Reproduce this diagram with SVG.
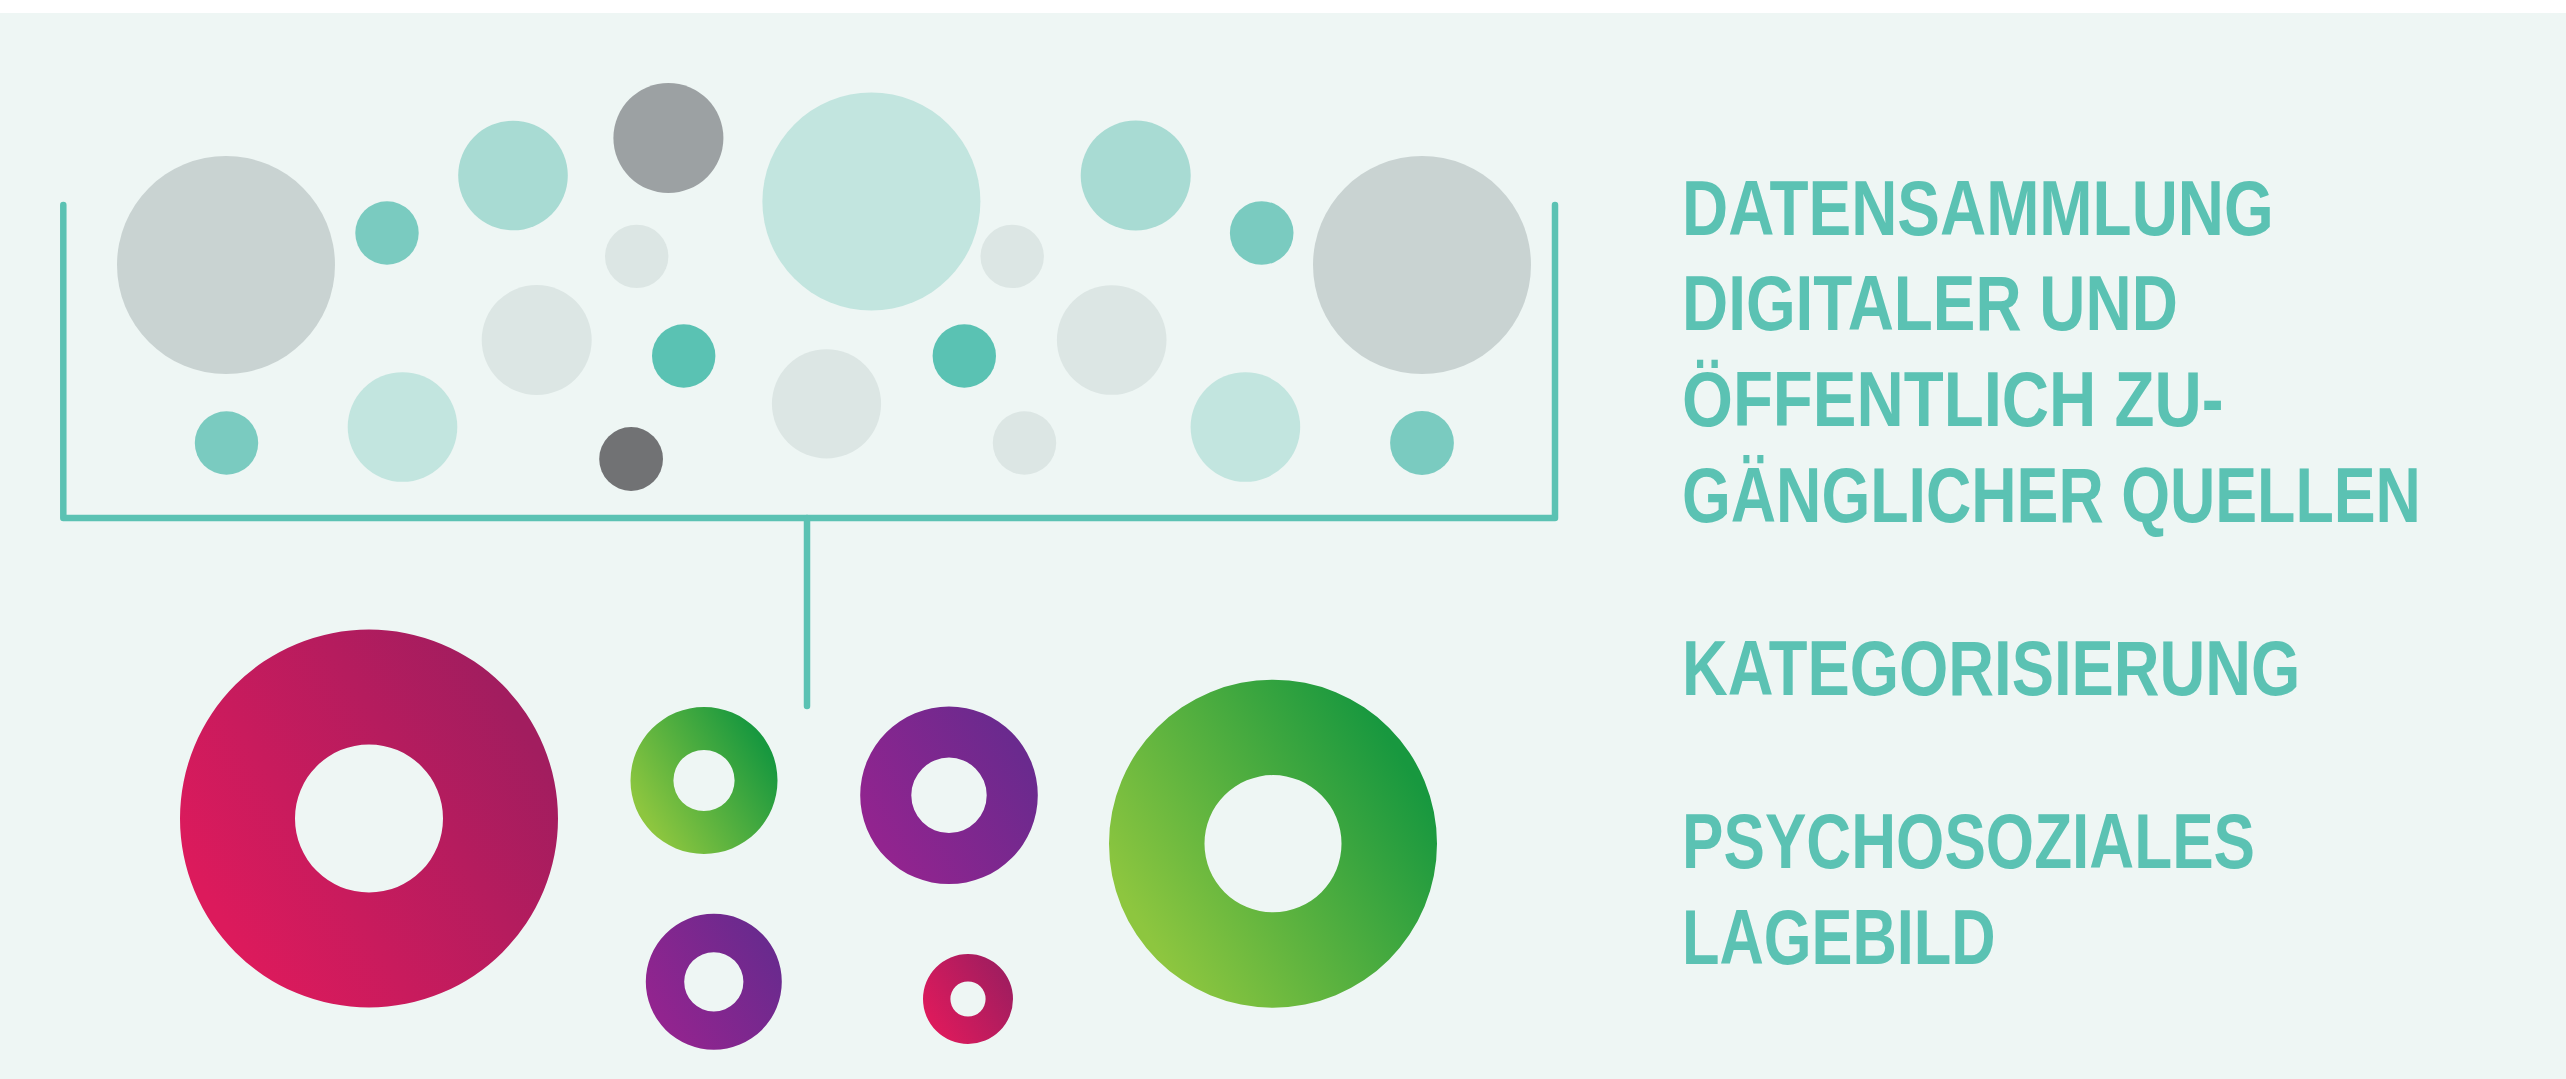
<svg xmlns="http://www.w3.org/2000/svg" width="2566" height="1079" viewBox="0 0 2566 1079">
  <defs>
    <linearGradient id="gPink" x1="0.1" y1="0.75" x2="0.9" y2="0.25">
      <stop offset="0" stop-color="#DC1A5C"/>
      <stop offset="1" stop-color="#A21D5F"/>
    </linearGradient>
    <linearGradient id="gGreen" x1="0.1" y1="0.75" x2="0.9" y2="0.25">
      <stop offset="0" stop-color="#8DC63F"/>
      <stop offset="1" stop-color="#18983F"/>
    </linearGradient>
    <linearGradient id="gPurple" x1="0.1" y1="0.75" x2="0.9" y2="0.25">
      <stop offset="0" stop-color="#92248F"/>
      <stop offset="1" stop-color="#6A2A8E"/>
    </linearGradient>
  </defs>
  <style>
    .gray { fill: #C9D3D2; }
    .pale { fill: #DCE6E4; }
    .mint { fill: #C2E5DF; }
    .aqua { fill: #A8DBD3; }
    .teal { fill: #7ACBC0; }
    .turq { fill: #5AC2B3; }
    .slate { fill: #9CA1A3; }
    .dark { fill: #717274; }
    .ring { fill-rule: evenodd; }
    .conn { fill: none; stroke: #5BC2B3; stroke-width: 6.5; stroke-linecap: round; stroke-linejoin: round; }
    .label { font-family: "Liberation Sans", Arial, sans-serif; font-weight: 700; font-size: 77px; fill: #5BC2B3; }
  </style>

  <!-- background panel -->
  <rect x="0" y="13" width="2566" height="1066" fill="#EEF6F4"/>

  <!-- collected data points -->
  <g id="sources">
    <circle class="gray" cx="226" cy="265" r="109"/>
    <circle class="teal" cx="387" cy="233" r="31.7"/>
    <circle class="aqua" cx="513" cy="175.5" r="54.8"/>
    <circle class="slate" cx="668.4" cy="138" r="55"/>
    <circle class="pale" cx="636.7" cy="256.4" r="31.7"/>
    <circle class="mint" cx="871.4" cy="201.5" r="109"/>
    <circle class="pale" cx="1012.2" cy="256.4" r="31.7"/>
    <circle class="aqua" cx="1135.7" cy="175.5" r="55"/>
    <circle class="teal" cx="1261.7" cy="233" r="31.8"/>
    <circle class="gray" cx="1422" cy="265" r="109"/>
    <circle class="pale" cx="536.7" cy="340" r="55"/>
    <circle class="turq" cx="683.7" cy="356" r="31.7"/>
    <circle class="pale" cx="826.5" cy="403.8" r="54.6"/>
    <circle class="turq" cx="964.3" cy="356" r="31.7"/>
    <circle class="pale" cx="1111.7" cy="340" r="54.8"/>
    <circle class="teal" cx="226.5" cy="443" r="31.7"/>
    <circle class="mint" cx="402.5" cy="427" r="54.8"/>
    <circle class="dark" cx="631.1" cy="459" r="31.9"/>
    <circle class="pale" cx="1024.5" cy="443" r="31.7"/>
    <circle class="mint" cx="1245.4" cy="427" r="54.8"/>
    <circle class="teal" cx="1422" cy="443" r="31.9"/>
  </g>

  <!-- bracket and link -->
  <g id="connectors">
    <path class="conn" d="M63.3,205 V518 H1555 V205"/>
    <path class="conn" d="M807,518 V706"/>
  </g>

  <!-- categories -->
  <g id="categories">
    <path id="ring-pink-large" class="ring" fill="url(#gPink)" d="M180,818.5 a189,189 0 1,0 378,0 a189,189 0 1,0 -378,0 Z M295,818.5 a74,74 0 1,0 148,0 a74,74 0 1,0 -148,0 Z"/>
    <path id="ring-green-small" class="ring" fill="url(#gGreen)" d="M630.5,780.5 a73.5,73.5 0 1,0 147,0 a73.5,73.5 0 1,0 -147,0 Z M673.4,780.5 a30.6,30.6 0 1,0 61.2,0 a30.6,30.6 0 1,0 -61.2,0 Z"/>
    <path id="ring-purple" class="ring" fill="url(#gPurple)" d="M860.2,795.3 a88.8,88.8 0 1,0 177.6,0 a88.8,88.8 0 1,0 -177.6,0 Z M911.3,795.3 a37.7,37.7 0 1,0 75.4,0 a37.7,37.7 0 1,0 -75.4,0 Z"/>
    <path id="ring-green-large" class="ring" fill="url(#gGreen)" d="M1109,843.7 a164,164 0 1,0 328,0 a164,164 0 1,0 -328,0 Z M1204.5,843.7 a68.5,68.5 0 1,0 137,0 a68.5,68.5 0 1,0 -137,0 Z"/>
    <path id="ring-purple-small" class="ring" fill="url(#gPurple)" d="M645.8,981.8 a68,68 0 1,0 136,0 a68,68 0 1,0 -136,0 Z M684.2,981.8 a29.6,29.6 0 1,0 59.2,0 a29.6,29.6 0 1,0 -59.2,0 Z"/>
    <path id="ring-pink-small" class="ring" fill="url(#gPink)" d="M923,999 a45,45 0 1,0 90,0 a45,45 0 1,0 -90,0 Z M950.4,999 a17.6,17.6 0 1,0 35.2,0 a17.6,17.6 0 1,0 -35.2,0 Z"/>
  </g>

  <!-- step labels, set in a horizontally condensed bold face -->
  <g id="labels">
    <text class="label" transform="translate(1682,234.5) scale(0.83,1)">DATENSAMMLUNG</text>
    <text class="label" transform="translate(1682,330) scale(0.83,1)">DIGITALER UND</text>
    <text class="label" transform="translate(1682,426) scale(0.85,1)">ÖFFENTLICH ZU-</text>
    <text class="label" transform="translate(1682,522) scale(0.815,1)">GÄNGLICHER QUELLEN</text>
    <text class="label" transform="translate(1682,694.5) scale(0.823,1)">KATEGORISIERUNG</text>
    <text class="label" transform="translate(1682,868) scale(0.807,1)">PSYCHOSOZIALES</text>
    <text class="label" transform="translate(1682,964) scale(0.797,1)">LAGEBILD</text>
  </g>
</svg>
